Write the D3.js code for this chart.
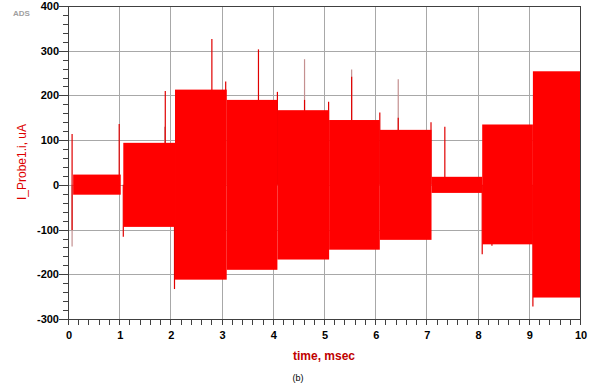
<!DOCTYPE html>
<html>
<head>
<meta charset="utf-8">
<script src="https://cdn.jsdelivr.net/npm/d3@7"></script>
<style>
  body { margin: 0; background: #fff; }
  svg { display: block; }
  .tick-label { font-family: "Liberation Sans", Arial, sans-serif; font-weight: bold; font-size: 11px; fill: #000; }
</style>
</head>
<body>
<div id="chart"></div>
<script>
// envelope of the oscillating current, one block per msec interval
const bandStart = [0.10, 1.08, 2.09, 3.10, 4.09, 5.10, 6.09, 7.10, 8.09, 9.08];
const bandEnd   = [1.03, 2.09, 3.10, 4.09, 5.10, 6.09, 7.10, 8.09, 9.08, 10.0];
const bandHigh  = [23, 94, 213, 190, 167, 145, 123, 18, 135, 254];
const bandLow   = [-22, -94, -212, -190, -167, -145, -123, -18, -133, -252];

// switching spikes (time msec, low uA, high uA)
const spikeTime = [0.08, 1.00, 1.08, 1.90, 2.08, 2.81, 3.08, 3.72, 4.09, 4.62, 5.09, 5.54, 6.09, 6.45, 7.09, 7.36, 8.09, 8.28, 9.08];
const spikeLow  = [-101, 0, -116, 0, -233, 0, 0, 0, 0, 0, 0, 0, 0, 0, 0, 0, -155, -136, -272];
const spikeHigh = [114, 136, 0, 210, 0, 326, 231, 303, 208, 190, 186, 242, 162, 150, 140, 130, 0, 0, 0];

// faint parts of spikes
const ghostTime = [0.08, 1.89, 4.62, 5.54, 6.45];
const ghostLow  = [-138, 0, 0, 0, 0];
const ghostHigh = [0, 130, 281, 258, 236];

const xTicks = [0, 1, 2, 3, 4, 5, 6, 7, 8, 9, 10];
const yTicks = [-300, -200, -100, 0, 100, 200, 300, 400];

const WIDTH = 592, HEIGHT = 385;
const LEFT = 68, RIGHT = 580, TOP = 6, BOTTOM = 319;

const svg = d3.select("#chart").append("svg")
  .attr("width", WIDTH)
  .attr("height", HEIGHT);

const x = d3.scaleLinear().domain([0, 10]).range([LEFT, RIGHT]);
const y = d3.scaleLinear().domain([-300, 400]).range([BOTTOM, TOP]);

// grid
const grid = svg.append("g").attr("shape-rendering", "crispEdges");
grid.selectAll("line.vg")
  .data(xTicks.slice(1, -1))
  .enter().append("line")
  .attr("x1", d => x(d) + 0.5).attr("x2", d => x(d) + 0.5)
  .attr("y1", TOP).attr("y2", BOTTOM)
  .attr("stroke", "#a8a8a8");
grid.selectAll("line.hg")
  .data(yTicks.slice(1, -1))
  .enter().append("line")
  .attr("y1", d => y(d) + 0.5).attr("y2", d => y(d) + 0.5)
  .attr("x1", LEFT).attr("x2", RIGHT)
  .attr("stroke", "#a8a8a8");

// spikes go under the bands, only the parts sticking out stay visible
const ghosts = ghostTime.map((t, i) => ({ t, lo: ghostLow[i], hi: ghostHigh[i] }));
svg.append("g").selectAll("line")
  .data(ghosts)
  .enter().append("line")
  .attr("x1", d => x(d.t)).attr("x2", d => x(d.t))
  .attr("y1", d => y(d.lo)).attr("y2", d => y(d.hi))
  .attr("stroke", "#c49090")
  .attr("stroke-width", 1.2);

const spikes = spikeTime.map((t, i) => ({ t, lo: spikeLow[i], hi: spikeHigh[i] }));
svg.append("g").selectAll("line")
  .data(spikes)
  .enter().append("line")
  .attr("x1", d => x(d.t)).attr("x2", d => x(d.t))
  .attr("y1", d => y(d.lo)).attr("y2", d => y(d.hi))
  .attr("stroke", "#e00000")
  .attr("stroke-width", 1.2);

// bands
const bands = bandStart.map((s, i) => ({ s, e: bandEnd[i], hi: bandHigh[i], lo: bandLow[i] }));
svg.append("g").selectAll("rect")
  .data(bands)
  .enter().append("rect")
  .attr("x", d => x(d.s))
  .attr("width", d => x(d.e) - x(d.s))
  .attr("y", d => y(d.hi))
  .attr("height", d => y(d.lo) - y(d.hi))
  .attr("fill", "#ff0000");

// frame
svg.append("rect")
  .attr("x", LEFT + 0.5).attr("y", TOP + 0.5)
  .attr("width", RIGHT - LEFT).attr("height", BOTTOM - TOP)
  .attr("fill", "none")
  .attr("stroke", "#404040")
  .attr("shape-rendering", "crispEdges");

// y axis ticks
const yMinor = d3.range(-300, 401, 20);
svg.append("g").attr("shape-rendering", "crispEdges").selectAll("line")
  .data(yMinor)
  .enter().append("line")
  .attr("x1", d => yTicks.includes(d) ? LEFT - 9 : LEFT - 5)
  .attr("x2", LEFT)
  .attr("y1", d => y(d) + 0.5).attr("y2", d => y(d) + 0.5)
  .attr("stroke", "#404040");

svg.append("g").selectAll("text")
  .data(yTicks)
  .enter().append("text")
  .attr("class", "tick-label")
  .attr("x", LEFT - 9)
  .attr("y", d => y(d))
  .attr("dy", "0.36em")
  .attr("text-anchor", "end")
  .text(d => d);

// x axis ticks
const xMinor = d3.range(0, 10.001, 0.2);
svg.append("g").attr("shape-rendering", "crispEdges").selectAll("line")
  .data(xMinor)
  .enter().append("line")
  .attr("x1", d => x(d) + 0.5).attr("x2", d => x(d) + 0.5)
  .attr("y1", BOTTOM).attr("y2", BOTTOM + 6)
  .attr("stroke", "#404040");

svg.append("g").selectAll("text")
  .data(xTicks)
  .enter().append("text")
  .attr("class", "tick-label")
  .attr("x", d => x(d) + 1)
  .attr("y", BOTTOM + 20)
  .attr("text-anchor", "middle")
  .text(d => d);

// titles
svg.append("text")
  .attr("transform", "translate(26,162) rotate(-90)")
  .attr("text-anchor", "middle")
  .style("font-family", "Liberation Sans, Arial, sans-serif")
  .style("font-size", "12px")
  .style("fill", "#dd0000")
  .text("I_Probe1.i, uA");

svg.append("text")
  .attr("x", 324)
  .attr("y", 360)
  .attr("text-anchor", "middle")
  .style("font-family", "Liberation Sans, Arial, sans-serif")
  .style("font-size", "12px")
  .style("font-weight", "bold")
  .style("fill", "#c00000")
  .text("time, msec");

svg.append("text")
  .attr("x", 13)
  .attr("y", 16)
  .style("font-family", "Liberation Sans, Arial, sans-serif")
  .style("font-size", "8px")
  .style("font-weight", "bold")
  .style("fill", "#a0a0a0")
  .text("ADS");

svg.append("text")
  .attr("x", 298)
  .attr("y", 381)
  .attr("text-anchor", "middle")
  .style("font-family", "Liberation Sans, Arial, sans-serif")
  .style("font-size", "9px")
  .style("fill", "#000")
  .text("(b)");
</script>
</body>
</html>
